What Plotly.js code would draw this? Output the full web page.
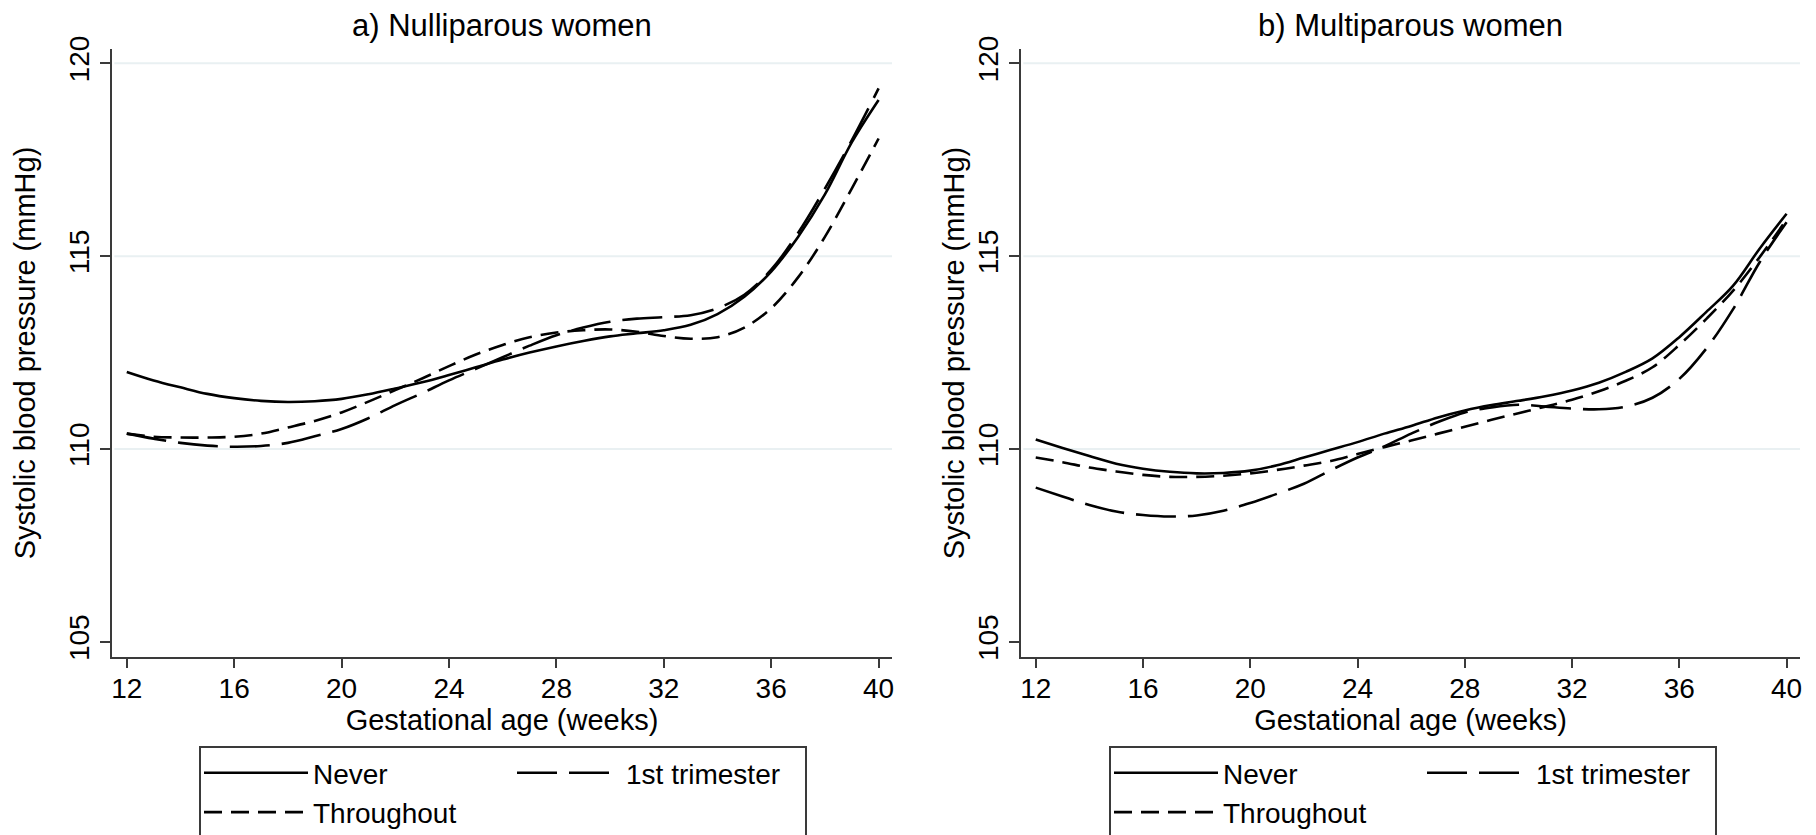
<!DOCTYPE html>
<html>
<head>
<meta charset="utf-8">
<script src="https://cdn.plot.ly/plotly-3.0.1.min.js"></script>
<style>
html,body{margin:0;padding:0;background:#ffffff;}
#chart{width:1816px;height:835px;}
</style>
</head>
<body>
<div id="chart"></div>
<script>
// ---------- data ----------
const weeks = [12,13,14,15,16,17,18,19,20,21,22,23,24,25,26,27,28,29,30,31,32,33,34,35,36,37,38,39,40];

// a) Nulliparous women
const nulliNever      = [112.00,111.78,111.60,111.43,111.32,111.25,111.22,111.24,111.30,111.42,111.57,111.73,111.92,112.12,112.32,112.50,112.66,112.80,112.92,113.00,113.08,113.22,113.50,113.95,114.60,115.50,116.60,117.95,119.05];
const nulliFirstTri   = [110.40,110.27,110.16,110.09,110.06,110.08,110.16,110.33,110.52,110.80,111.14,111.45,111.78,112.08,112.38,112.68,112.95,113.15,113.30,113.38,113.42,113.47,113.65,114.00,114.65,115.60,116.75,118.00,119.35];
const nulliThroughout = [110.40,110.32,110.30,110.30,110.32,110.40,110.56,110.73,110.95,111.23,111.53,111.83,112.15,112.45,112.70,112.90,113.02,113.08,113.10,113.04,112.93,112.86,112.90,113.15,113.65,114.45,115.50,116.75,118.05];

// b) Multiparous women
const multiNever      = [110.25,110.03,109.82,109.62,109.49,109.41,109.37,109.38,109.44,109.58,109.78,109.98,110.18,110.40,110.60,110.82,111.00,111.14,111.25,111.37,111.52,111.72,112.00,112.35,112.90,113.55,114.23,115.20,116.10];
const multiFirstTri   = [109.00,108.77,108.55,108.38,108.29,108.25,108.28,108.40,108.60,108.84,109.10,109.45,109.78,110.07,110.40,110.70,110.95,111.08,111.15,111.10,111.05,111.03,111.10,111.33,111.82,112.60,113.62,114.85,115.88];
const multiThroughout = [109.78,109.66,109.52,109.42,109.33,109.28,109.28,109.31,109.37,109.46,109.57,109.69,109.87,110.05,110.22,110.40,110.58,110.76,110.93,111.10,111.28,111.50,111.77,112.12,112.70,113.37,114.10,114.98,115.95];

const seriesNames = ['Never','1st trimester','Throughout'];
const panelTitles = ['a) Nulliparous women','b) Multiparous women'];
const xTickVals = [12,16,20,24,28,32,36,40];
const yTickVals = [105,110,115,120];
const gridVals  = [110,115,120];
const xTitle = 'Gestational age (weeks)';
const yTitle = 'Systolic blood pressure (mmHg)';

// ---------- styling ----------
const FONT = 'Liberation Sans, Arial, Helvetica, sans-serif';
const AXIS_COL = '#3a3a3a';
const GRID_COL = '#e9f0f2';
const dashes = ['solid', '40px,12px', '18px,9px'];
const groups = ['g1','g2','g1'];          // Never + Throughout in column 1, 1st trimester in column 2
const entryWidths = [194, 174, 194];       // legend column widths (px)

const panels = [
  {series:[nulliNever, nulliFirstTri, nulliThroughout], xa:'x',  ya:'y',  legend:'legend'},
  {series:[multiNever, multiFirstTri, multiThroughout], xa:'x2', ya:'y2', legend:'legend2'}
];

const traces = [];
panels.forEach((p, pi) => {
  p.series.forEach((vals, si) => {
    traces.push({
      type:'scatter', mode:'lines',
      x: weeks, y: vals,
      name: seriesNames[si],
      xaxis: p.xa, yaxis: p.ya,
      legend: p.legend,
      legendgroup: 'p' + pi + groups[si],
      legendwidth: entryWidths[si],
      line: {color:'#000000', width:2.6, dash:dashes[si], shape:'spline', smoothing:1},
      hoverinfo:'x+y+name'
    });
  });
});

function xAxis(domain, anchor){
  return {
    domain: domain, anchor: anchor, range:[11.45, 40.5],
    tickvals: xTickVals, ticktext: xTickVals.map(String),
    showline:true, linecolor:AXIS_COL, linewidth:2,
    ticks:'outside', ticklen:9, tickwidth:2, tickcolor:AXIS_COL,
    ticklabelstandoff:-4,
    showgrid:false, zeroline:false,
    tickfont:{family:FONT, size:28, color:'#000'},
    title:{text:xTitle, font:{family:FONT, size:29, color:'#000'}, standoff:0},
    automargin:false
  };
}
function yAxis(anchor, standoff){
  return {
    anchor: anchor, domain:[0,1], range:[104.61, 120.37],
    tickvals: yTickVals, ticktext: yTickVals.map(String),
    tickangle:-90,
    showline:true, linecolor:AXIS_COL, linewidth:2,
    ticks:'outside', ticklen:10, tickwidth:2, tickcolor:AXIS_COL,
    showgrid:false, zeroline:false,
    tickfont:{family:FONT, size:28, color:'#000'},
    title:{text:yTitle, font:{family:FONT, size:29, color:'#000'}, standoff:standoff},
    automargin:false
  };
}

const shapes = [];
['x','x2'].forEach((xa, i) => {
  const ya = i === 0 ? 'y' : 'y2';
  gridVals.forEach(v => {
    shapes.push({type:'line', xref: xa + ' domain', yref: ya, x0:0.003, x1:1, y0:v, y1:v,
      line:{color:GRID_COL, width:2}, layer:'below'});
  });
});

const annotations = panelTitles.map((t, i) => ({
  text: t, xref: (i === 0 ? 'x' : 'x2') + ' domain', yref: (i === 0 ? 'y' : 'y2') + ' domain',
  x:0.5, y:1.039, xanchor:'center', yanchor:'middle', showarrow:false,
  font:{family:FONT, size:31, color:'#000'}
}));

function legendObj(xpx){
  return {
    xref:'container', yref:'container',
    x: xpx / 1816, y: 1 - 746 / 835, xanchor:'left', yanchor:'top',
    orientation:'h', traceorder:'grouped', tracegroupgap:0,
    bordercolor:AXIS_COL, borderwidth:2, bgcolor:'#ffffff',
    font:{family:FONT, size:28, color:'#000'},
    itemwidth:104, entrywidthmode:'pixels',
    itemclick:false, itemdoubleclick:false
  };
}

const layout = {
  width:1816, height:835,
  paper_bgcolor:'#ffffff', plot_bgcolor:'#ffffff',
  margin:{l:112, r:16, t:49, b:178, autoexpand:false},
  font:{family:FONT, color:'#000'},
  showlegend:true,
  xaxis: xAxis([0, 0.4621], 'y'),
  yaxis: yAxis('x', 20),
  xaxis2: xAxis([0.5385, 1], 'y2'),
  yaxis2: yAxis('x2', 0),
  legend: legendObj(199),
  legend2: legendObj(1109),
  shapes: shapes,
  annotations: annotations
};

Plotly.newPlot('chart', traces, layout, {displayModeBar:false, responsive:false});
</script>
</body>
</html>
